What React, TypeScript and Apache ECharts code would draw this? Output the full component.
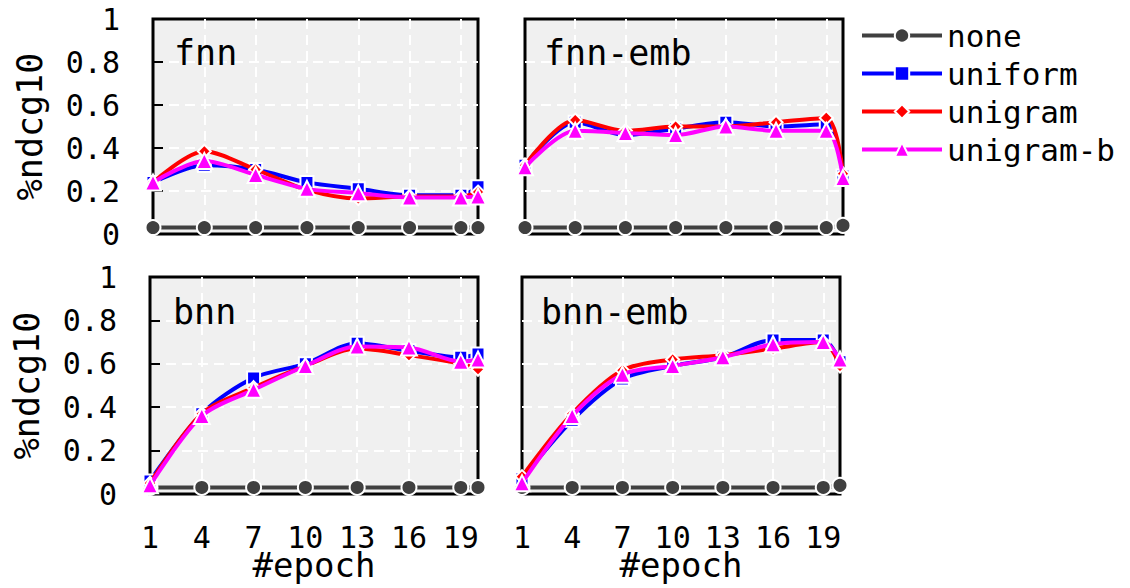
import React, { useEffect, useRef } from "react";
import * as echarts from "echarts";

// ---- data ----
const EPOCHS = [1, 4, 7, 10, 13, 16, 19, 20];
const X_TICK_LABELS = ["1", "4", "7", "10", "13", "16", "19"];
const METHODS = ["none", "uniform", "unigram", "unigram-b"];
const PANEL_TITLES = ["fnn", "fnn-emb", "bnn", "bnn-emb"];

const FNN_NONE = [0.03, 0.03, 0.03, 0.03, 0.03, 0.03, 0.03, 0.03];
const FNN_UNIFORM = [0.24, 0.32, 0.3, 0.24, 0.21, 0.18, 0.18, 0.22];
const FNN_UNIGRAM = [0.24, 0.385, 0.3, 0.205, 0.165, 0.175, 0.175, 0.195];
const FNN_UNIGRAM_B = [0.24, 0.34, 0.275, 0.21, 0.19, 0.17, 0.17, 0.175];

const FNNEMB_NONE = [0.03, 0.03, 0.03, 0.03, 0.03, 0.03, 0.03, 0.04];
const FNNEMB_UNIFORM = [0.32, 0.52, 0.46, 0.49, 0.52, 0.5, 0.51, 0.27];
const FNNEMB_UNIGRAM = [0.32, 0.53, 0.48, 0.5, 0.5, 0.52, 0.54, 0.28];
const FNNEMB_UNIGRAM_B = [0.31, 0.48, 0.47, 0.46, 0.5, 0.48, 0.48, 0.26];

const BNN_NONE = [0.03, 0.03, 0.03, 0.03, 0.03, 0.03, 0.03, 0.03];
const BNN_UNIFORM = [0.06, 0.37, 0.535, 0.6, 0.695, 0.66, 0.63, 0.645];
const BNN_UNIGRAM = [0.05, 0.37, 0.49, 0.59, 0.67, 0.64, 0.6, 0.575];
const BNN_UNIGRAM_B = [0.04, 0.36, 0.48, 0.59, 0.68, 0.675, 0.61, 0.62];

const BNNEMB_NONE = [0.03, 0.03, 0.03, 0.03, 0.03, 0.03, 0.03, 0.04];
const BNNEMB_UNIFORM = [0.07, 0.34, 0.53, 0.59, 0.63, 0.71, 0.71, 0.61];
const BNNEMB_UNIGRAM = [0.08, 0.37, 0.57, 0.62, 0.64, 0.67, 0.7, 0.59];
const BNNEMB_UNIGRAM_B = [0.05, 0.36, 0.55, 0.59, 0.63, 0.69, 0.7, 0.62];

const PANEL_DATA = [
  [FNN_NONE, FNN_UNIFORM, FNN_UNIGRAM, FNN_UNIGRAM_B],
  [FNNEMB_NONE, FNNEMB_UNIFORM, FNNEMB_UNIGRAM, FNNEMB_UNIGRAM_B],
  [BNN_NONE, BNN_UNIFORM, BNN_UNIGRAM, BNN_UNIGRAM_B],
  [BNNEMB_NONE, BNNEMB_UNIFORM, BNNEMB_UNIGRAM, BNNEMB_UNIGRAM_B],
];

// ---- styles ----
const FONT = "DejaVu Sans Mono";
const COLORS = ["#404040", "#0000ff", "#ff0000", "#ff00ff"];
const SYMBOLS = ["circle", "rect", "diamond", "triangle"];
const SYMBOL_SIZES = [15, 13, 13, 16];
const GRIDS = [
  { left: 153, top: 19, width: 325, height: 215 },
  { left: 525, top: 19, width: 318, height: 215 },
  { left: 150, top: 277, width: 328, height: 217 },
  { left: 522, top: 277, width: 318, height: 217 },
];
const TITLE_POS = [
  { left: 169, top: 30 },
  { left: 539, top: 30 },
  { left: 168, top: 289 },
  { left: 536, top: 289 },
];
const X_ORIGIN = EPOCHS[0];

export default function App() {
  const ref = useRef<HTMLDivElement>(null);
  useEffect(() => {
    if (!ref.current) return;
    const chart = echarts.init(ref.current, undefined, { renderer: "svg" });
    const splitLine = {
      show: true,
      showMinLine: false,
      showMaxLine: false,
      lineStyle: { color: "#ffffff", width: 2, type: [10, 6] },
    };
    const xAxis = GRIDS.map((_, p) => ({
      type: "value",
      gridIndex: p,
      min: 0,
      max: EPOCHS[EPOCHS.length - 1] - X_ORIGIN,
      interval: 3,
      axisLine: { show: false },
      axisTick: { show: false },
      splitLine,
      axisLabel: {
        show: p >= 2,
        margin: 30,
        fontFamily: FONT,
        fontSize: 30,
        lineHeight: 26,
        color: "#000",
        formatter: (v: number) => {
          const label = String(v + X_ORIGIN);
          return X_TICK_LABELS.includes(label) ? label : "";
        },
      },
      name: p >= 2 ? "#epoch" : "",
      nameLocation: "middle",
      nameGap: 54,
      nameMoveOverlap: false,
      nameTextStyle: { fontFamily: FONT, fontSize: 34, lineHeight: 34, color: "#000" },
    }));
    const yAxis = GRIDS.map((_, p) => ({
      type: "value",
      gridIndex: p,
      min: 0,
      max: 1,
      interval: 0.2,
      axisLine: { show: false },
      axisTick: {
        show: p % 2 === 0,
        inside: true,
        length: 10,
        lineStyle: { color: "#000", width: 2 },
      },
      splitLine,
      axisLabel: {
        show: p % 2 === 0,
        margin: 33,
        fontFamily: FONT,
        fontSize: 30,
        color: "#000",
      },
      name: p % 2 === 0 ? "%ndcg10" : "",
      nameLocation: "middle",
      nameGap: 106,
      nameMoveOverlap: false,
      nameTextStyle: { fontFamily: FONT, fontSize: 35, color: "#000" },
    }));
    const series: any[] = [];
    PANEL_DATA.forEach((panel, p) => {
      panel.forEach((vals, m) => {
        series.push({
          type: "line",
          name: METHODS[m],
          xAxisIndex: p,
          yAxisIndex: p,
          data: EPOCHS.map((e, i) => [e - X_ORIGIN, vals[i]]),
          smooth: 0.3,
          symbol: SYMBOLS[m],
          symbolSize: SYMBOL_SIZES[m],
          showAllSymbol: true,
          lineStyle: { color: COLORS[m], width: 4 },
          itemStyle: { color: COLORS[m], borderColor: "#ffffff", borderWidth: 2 },
          z: 2 + m,
        });
      });
    });
    chart.setOption({
      animation: false,
      backgroundColor: "#ffffff",
      grid: GRIDS.map((g) => ({
        ...g,
        show: true,
        backgroundColor: "#f0f0f0",
        borderColor: "#000000",
        borderWidth: 3,
      })),
      title: PANEL_TITLES.map((t, i) => ({
        text: t,
        ...TITLE_POS[i],
        textStyle: { fontFamily: FONT, fontSize: 35, fontWeight: "normal", color: "#000" },
      })),
      legend: {
        data: METHODS,
        orient: "vertical",
        left: 855,
        top: 15,
        itemWidth: 80,
        itemHeight: 18,
        itemGap: 7,
        lineStyle: { width: 4 },
        textStyle: { fontFamily: FONT, fontSize: 31, color: "#000", lineHeight: 31 },
      },
      xAxis,
      yAxis,
      series,
    });
    return () => chart.dispose();
  }, []);
  return (
    <div
      ref={ref}
      style={{ position: "absolute", left: 0, top: 0, width: 1130, height: 588 }}
    />
  );
}
